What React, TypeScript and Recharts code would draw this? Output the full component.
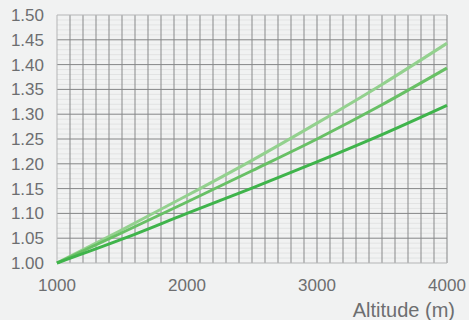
import React from 'react';
import {
  LineChart,
  Line,
  XAxis,
  YAxis,
  CartesianGrid,
} from 'recharts';

// Altitude (m) and correction factor for the three curves
const altitudes = [1000, 1500, 2000, 2500, 3000, 3500, 4000];
const darkCurve = [1.0, 1.048, 1.1, 1.151, 1.204, 1.259, 1.318];
const midCurve = [1.0, 1.061, 1.123, 1.186, 1.25, 1.319, 1.393];
const lightCurve = [1.0, 1.067, 1.136, 1.207, 1.282, 1.36, 1.443];

const xTicks = [1000, 2000, 3000, 4000];
const yTicks = [1.0, 1.05, 1.1, 1.15, 1.2, 1.25, 1.3, 1.35, 1.4, 1.45, 1.5];

const X_DOMAIN = [1000, 4000];
const Y_DOMAIN = [1, 1.5];

const data = altitudes.map((alt, i) => ({
  alt,
  dark: darkCurve[i],
  mid: midCurve[i],
  light: lightCurve[i],
}));

// grid steps
const minorX: number[] = [];
for (let v = 1100; v < 4000; v += 100) {
  if (v % 1000 !== 0) minorX.push(v);
}
const fineY: number[] = [];
for (let i = 1; i < 50; i++) {
  if (i % 5 !== 0) fineY.push(1 + i / 100);
}

const TEXT = '#6d6e70';
const BG = '#f1f2f2';

const AxisTitle = (props: any) => {
  const vb = props.viewBox || {};
  return (
    <text
      x={vb.x + vb.width + 8}
      y={vb.y + 54}
      textAnchor="end"
      fill={TEXT}
      fontSize={20}
    >
      Altitude (m)
    </text>
  );
};

// map a value to pixels, using the axis scale when the grid hands it over
const scaleX = (p: any, v: number) => {
  const s = p.xAxis && p.xAxis.scale;
  if (typeof s === 'function') return s(v);
  const o = p.offset;
  return o.left + ((v - X_DOMAIN[0]) / (X_DOMAIN[1] - X_DOMAIN[0])) * o.width;
};
const scaleY = (p: any, v: number) => {
  const s = p.yAxis && p.yAxis.scale;
  if (typeof s === 'function') return s(v);
  const o = p.offset;
  return o.top + ((Y_DOMAIN[1] - v) / (Y_DOMAIN[1] - Y_DOMAIN[0])) * o.height;
};

export default function App() {
  return (
    <div
      style={{
        position: 'absolute',
        left: 0,
        top: 0,
        width: 469,
        height: 320,
        background: BG,
        fontFamily: '"Liberation Sans", Arial, sans-serif',
      }}
    >
      <LineChart
        width={469}
        height={320}
        data={data}
        margin={{ top: 15, right: 22, bottom: 0, left: 0 }}
      >
        {/* faint 0.01 lines */}
        <CartesianGrid
          vertical={false}
          stroke="#e2e3e3"
          horizontalCoordinatesGenerator={(p: any) => fineY.map((v) => scaleY(p, v))}
        />
        {/* minor verticals every 100 m */}
        <CartesianGrid
          horizontal={false}
          stroke="#88898a"
          verticalCoordinatesGenerator={(p: any) => minorX.map((v) => scaleX(p, v))}
        />
        {/* main lines */}
        <CartesianGrid
          stroke="#858687"
          verticalCoordinatesGenerator={(p: any) => [2000, 3000, 4000].map((v) => scaleX(p, v))}
          horizontalCoordinatesGenerator={(p: any) =>
            yTicks.filter((v) => v > 1 && v < 1.5).map((v) => scaleY(p, v))
          }
        />
        {/* lighter frame edges */}
        <CartesianGrid
          stroke="#b4b5b6"
          verticalCoordinatesGenerator={(p: any) => [1000].map((v) => scaleX(p, v))}
          horizontalCoordinatesGenerator={(p: any) => [1.0, 1.5].map((v) => scaleY(p, v))}
        />
        <XAxis
          dataKey="alt"
          type="number"
          domain={X_DOMAIN}
          ticks={xTicks}
          axisLine={false}
          tickLine={false}
          tickSize={0}
          tickMargin={16}
          height={57}
          tick={{ fill: TEXT, fontSize: 17 }}
          label={<AxisTitle />}
        />
        <YAxis
          type="number"
          domain={Y_DOMAIN}
          ticks={yTicks}
          interval={0}
          axisLine={false}
          tickLine={false}
          tickSize={0}
          tickMargin={13}
          width={57}
          tick={{ fill: TEXT, fontSize: 17 }}
          tickFormatter={(v: number) => v.toFixed(2)}
        />
        <Line
          type="monotone"
          dataKey="light"
          stroke="#93d18e"
          strokeWidth={3}
          dot={false}
          isAnimationActive={false}
        />
        <Line
          type="monotone"
          dataKey="mid"
          stroke="#68c065"
          strokeWidth={3}
          dot={false}
          isAnimationActive={false}
        />
        <Line
          type="monotone"
          dataKey="dark"
          stroke="#3fb44b"
          strokeWidth={3}
          dot={false}
          isAnimationActive={false}
        />
      </LineChart>
    </div>
  );
}
